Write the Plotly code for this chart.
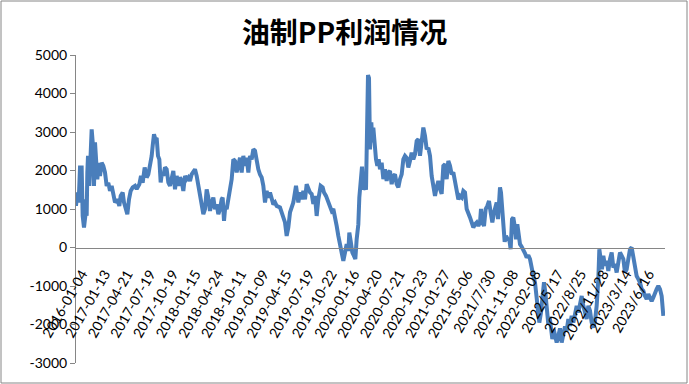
import plotly.graph_objects as go

# Row index of each sampled trading day (category position) and PP-from-oil profit (yuan/ton)
rows = [0, 4, 8, 12, 17, 20, 24, 28, 30, 32, 34, 36, 40, 44, 47, 51, 54, 57, 61, 64, 68, 72, 77, 82, 87, 92, 97, 102, 107, 112,
        117, 124, 130, 134, 140, 144, 148, 154, 159, 164, 170, 177, 182, 190, 195, 200, 206, 212, 217, 222, 227, 230, 234, 238, 242, 246, 250, 254, 258, 262,
        267, 272, 277, 282, 287, 292, 297, 302, 307, 312, 317, 322, 327, 332, 337, 342, 347, 352, 357, 362, 367, 372, 377, 382, 387, 392, 397, 402, 407, 412,
        417, 422, 427, 432, 437, 440, 444, 448, 452, 457, 462, 467, 472, 477, 482, 487, 492, 497, 502, 507, 512, 517, 522, 527, 532, 537, 542, 547, 552, 557,
        562, 567, 572, 577, 582, 587, 592, 597, 602, 612, 622, 627, 632, 637, 642, 647, 652, 660, 667, 672, 677, 682, 687, 692, 697, 702, 707, 712, 717, 722,
        727, 734, 740, 744, 750, 757, 762, 767, 772, 777, 782, 787, 792, 797, 802, 807, 812, 817, 820, 824, 829, 834, 838, 842, 847, 850, 854, 858, 862, 867,
        870, 873, 876, 879, 882, 886, 889, 892, 895, 900, 904, 908, 912, 917, 922, 927, 932, 937, 942, 947, 952, 957, 962, 967, 972, 977, 982, 987, 992, 997,
        1002, 1007, 1012, 1017, 1022, 1027, 1032, 1037, 1042, 1047, 1052, 1057, 1062, 1067, 1072, 1077, 1082, 1087, 1092, 1097, 1102, 1107, 1112, 1117, 1122, 1127, 1132, 1137, 1142, 1147,
        1152, 1157, 1162, 1167, 1172, 1177, 1182, 1187, 1192, 1197, 1202, 1207, 1212, 1215, 1219, 1224, 1229, 1234, 1239, 1244, 1249, 1254, 1258, 1262, 1266, 1269, 1272, 1275, 1279, 1282,
        1286, 1290, 1295, 1300, 1304, 1308, 1312, 1316, 1320, 1324, 1328, 1332, 1337, 1342, 1347, 1352, 1357, 1362, 1367, 1372, 1377, 1382, 1387, 1390, 1395, 1400, 1404, 1408, 1413, 1417,
        1421, 1425, 1429, 1433, 1437, 1442, 1447, 1452, 1457, 1462, 1467, 1472, 1477, 1482, 1487, 1492, 1497, 1502, 1507, 1512, 1517, 1522, 1527, 1532, 1537, 1542, 1547, 1552, 1557, 1562,
        1567, 1570, 1574, 1578, 1582, 1587, 1592, 1597, 1602, 1607, 1612, 1617, 1622, 1627, 1632, 1637, 1642, 1647, 1652, 1657, 1662, 1667, 1672, 1677, 1682, 1687, 1692, 1697, 1702, 1707,
        1712, 1717, 1722, 1727, 1732, 1737, 1742, 1747, 1752, 1757, 1759, 1762]

profit = [1080, 1430, 1170, 2080, 2080, 820, 520, 820, 1250, 820, 1950, 2380, 1600, 2380, 3070, 2640, 1600, 2730, 2290, 1770, 2200, 1860, 2200, 2120, 1950, 1600, 1680, 1470, 1600, 1430,
          1170, 1250, 1080, 1340, 1430, 1170, 1040, 865, 1250, 1470, 1560, 1600, 1520, 1640, 1860, 1680, 2080, 1820, 1900, 2120, 2380, 2640, 2940, 2810, 2850, 2380, 2290, 1690, 1950, 1860,
          2080, 2030, 1690, 1600, 1860, 1990, 1510, 1860, 1600, 1820, 1730, 1470, 1860, 1770, 1820, 1730, 1900, 1950, 2030, 1860, 1640, 1380, 1080, 865, 995, 1510, 1295, 950, 1165, 1295,
          995, 1120, 865, 995, 1255, 1295, 690, 1080, 995, 1255, 1510, 1770, 2290, 2250, 1950, 2200, 2330, 1950, 2380, 2120, 2330, 1950, 2380, 2290, 2550, 2510, 2200, 2030, 1900, 1820,
          1600, 1170, 1470, 1295, 1430, 1210, 1120, 1170, 1080, 1040, 820, 650, 300, 520, 910, 1040, 1170, 1600, 1170, 1430, 1250, 1470, 1250, 1645, 1520, 1430, 1390, 1130, 1340, 820,
          1250, 1600, 1560, 1430, 1340, 1170, 1080, 950, 1000, 820, 560, 300, 40, -130, -350, -130, 85, -85, 390, 170, -130, -220, -300, 215, 600, 1300, 1690, 2100, 1500, 1600,
          1500, 2900, 4480, 4400, 2550, 3250, 2730, 3115, 2640, 2290, 2120, 2290, 2030, 2200, 1775, 2030, 1730, 1950, 1990, 1645, 1860, 1900, 1645, 1560, 1775, 1900, 2290, 2380, 2330, 2080,
          2250, 2465, 2290, 2420, 2770, 2810, 2380, 2810, 3115, 2900, 2550, 2590, 2380, 1860, 1560, 1340, 1560, 1730, 1520, 1390, 2120, 2160, 1775, 2250, 2120, 1900, 1950, 1690, 1430, 1250,
          1340, 1300, 1470, 1430, 1000, 910, 780, 650, 520, 605, 650, 560, 650, 1000, 650, 560, 1000, 1080, 1210, 910, 650, 910, 1080, 1170, 735, 1080, 1560, 1430, 1000, 650,
          150, 300, 215, 200, -45, 735, 780, 560, 215, 605, 390, 85, 20, -45, -150, -260, -200, -300, -565, -740, -910, -1340, -1775, -1950, -1690, -1200, -900, -1170, -1600, -2000,
          -1800, -2200, -2380, -2120, -2250, -2470, -2300, -2100, -2470, -2250, -2050, -2165, -1860, -2035, -1775, -1950, -1645, -1515, -1690, -1430, -1260, -1515, -1690, -1860, -1515, -1645, -1950, -2080, -1910, -1515,
          -820, -45, -300, -565, -215, -475, -345, -610, -300, -130, -520, -435, -650, -300, -130, -215, -300, -650, -565, -300, -45, 0, -300, -475, -740, -820, -910, -1080, -1125, -1260,
          -1340, -1210, -1300, -1390, -1300, -1170, -1080, -995, -1080, -1260, -1515, -1775]

# Category labels shown on the x axis (every 68th row) and tick marks (every 112th row)
label_text = ["2016-01-04", "2017-01-13", "2017-04-21", "2017-07-19", "2017-10-19", "2018-01-15", "2018-04-24",
              "2018-10-11", "2019-01-09", "2019-04-15", "2019-07-19", "2019-10-22", "2020-01-16", "2020-04-20",
              "2020-07-21", "2020-10-23", "2021-01-27", "2021-05-06", "2021/7/30", "2021-11-08", "2022-02-08",
              "2022/5/17", "2022/8/25", "2022/11/28", "2023/3/14", "2023/6/16"]
label_start = 18
label_step = 68
tick_step = 112
n_rows = 1768

y_ticks = [-3000, -2000, -1000, 0, 1000, 2000, 3000, 4000, 5000]

title_text = "油制PP利润情况"

W, H = 689, 384
ml, mr, mt, mb = 76, 24, 55, 21
pw, ph = W - ml - mr, H - mt - mb

line_col = "#4a7ebb"
axis_col = "#868686"
font_fam = "Lato, 'Liberation Sans', sans-serif"

label_vals = [label_start + i * label_step for i in range(len(label_text))]
tick_vals = list(range(0, n_rows, tick_step))
x_range = [0, n_rows - 1]
y_range = [y_ticks[0], y_ticks[-1]]
x_axis_pos = (0 - y_range[0]) / (y_range[1] - y_range[0])

fig = go.Figure()
fig.add_trace(go.Scatter(x=rows, y=profit, mode="lines",
                         line=dict(color=line_col, width=4), hoverinfo="skip", showlegend=False))

fig.update_layout(
    width=W, height=H,
    margin=dict(l=ml, r=mr, t=mt, b=mb, pad=0, autoexpand=False),
    paper_bgcolor="white", plot_bgcolor="white",
    showlegend=False,
    title=dict(text=title_text, x=0.5, xanchor="center", xref="container",
               y=1 - 33 / H, yanchor="middle", yref="container",
               font=dict(family="'Noto Sans CJK SC'", size=28, color="black", weight="bold")),
    xaxis=dict(range=x_range, anchor="free", position=x_axis_pos, automargin=False,
               tickmode="array", tickvals=label_vals, ticktext=label_text,
               tickangle=-60, ticks="", ticklabelstandoff=12, showgrid=False, zeroline=False,
               showline=True, linecolor=axis_col, linewidth=1,
               tickfont=dict(family=font_fam, size=14, color="black")),
    xaxis2=dict(range=x_range, overlaying="x", anchor="free", position=x_axis_pos, automargin=False,
                tickmode="array", tickvals=tick_vals, showticklabels=False,
                ticks="outside", ticklen=5, tickcolor=axis_col, tickwidth=1,
                showgrid=False, zeroline=False, showline=False),
    yaxis=dict(range=y_range, tickmode="array", tickvals=y_ticks, automargin=False,
               ticktext=[str(v) for v in y_ticks],
               ticks="outside", ticklen=5, tickcolor=axis_col, tickwidth=1,
               showgrid=False, zeroline=False, showline=True, linecolor=axis_col, linewidth=1,
               tickfont=dict(family=font_fam, size=14, color="black")),
)

# outer chart border (pixel frame converted to paper coordinates)
fig.add_shape(type="rect", xref="paper", yref="paper",
              x0=(1 - ml) / pw, x1=(W - 2 - ml) / pw,
              y0=(1 - mb) / ph, y1=(H - 1 - mb) / ph,
              line=dict(color=axis_col, width=1), fillcolor="rgba(0,0,0,0)", layer="below")

fig.write_html("out.html", config={"displayModeBar": False},
               post_script="document.body.style.margin='0px';")
